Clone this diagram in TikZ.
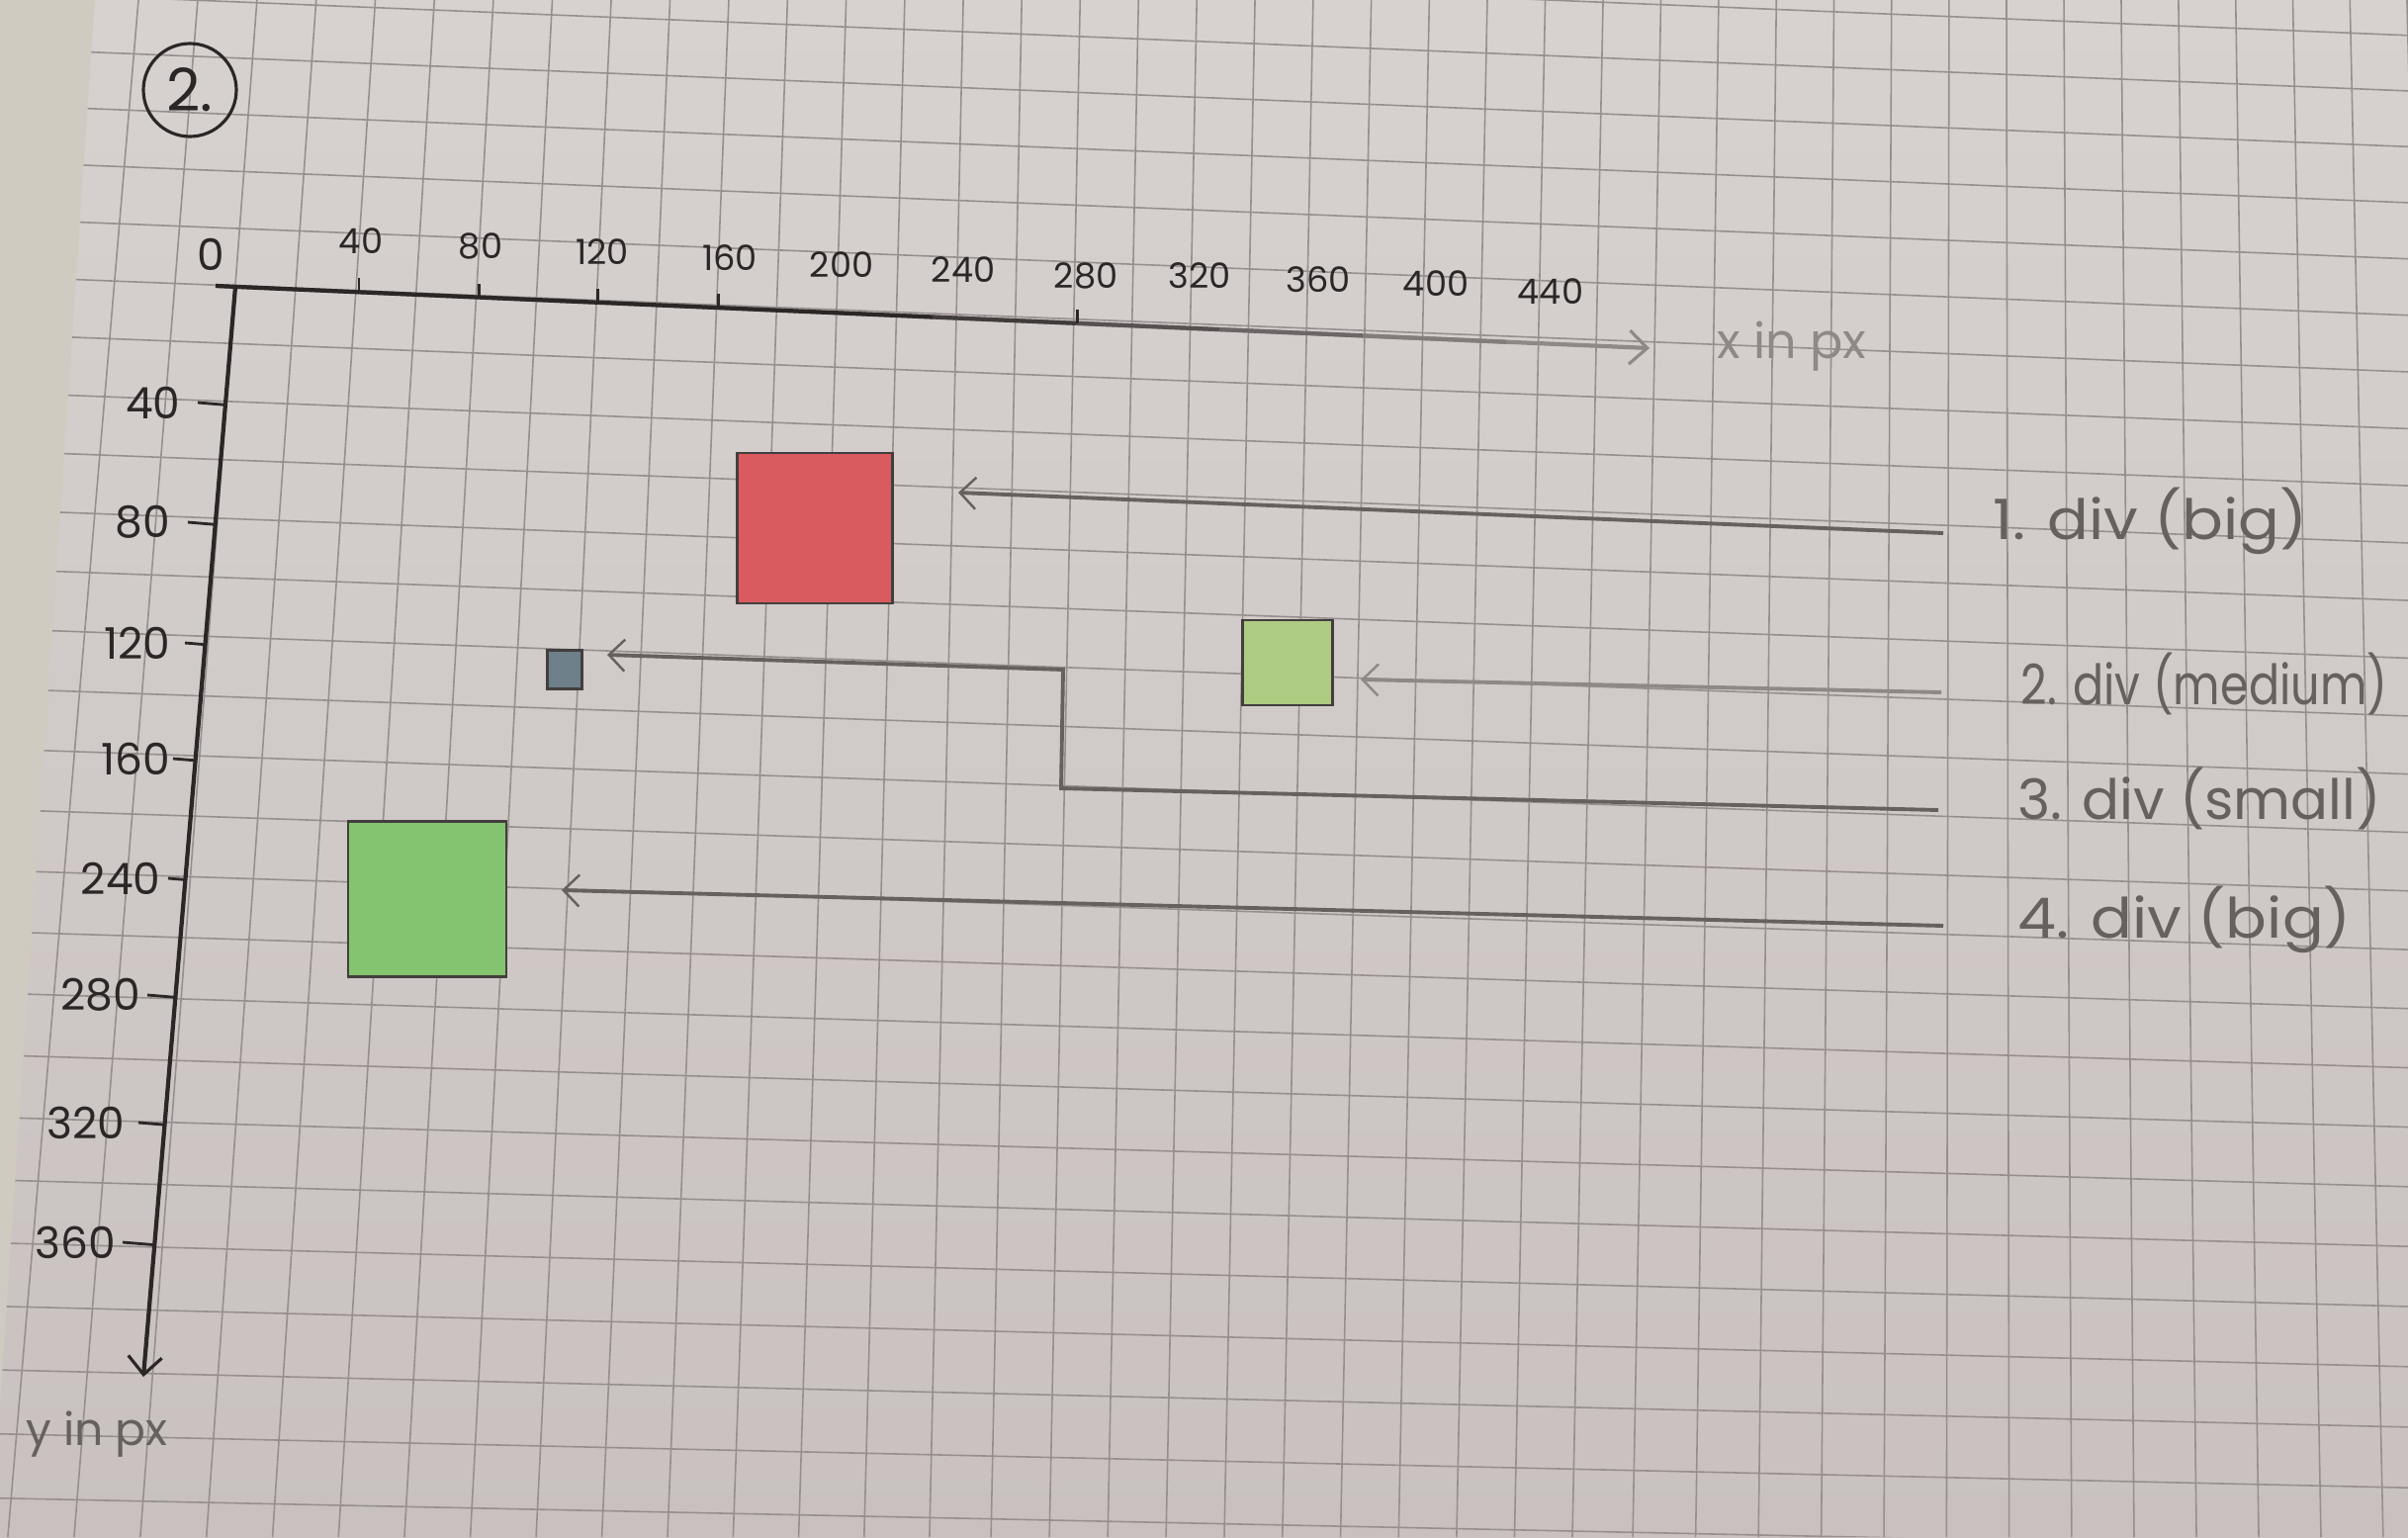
\documentclass[tikz,border=0pt]{standalone}
\usepackage{fontspec}
\setmainfont{Poppins}
\usetikzlibrary{arrows.meta,calc}
\definecolor{paperTop}{HTML}{D7D2D0}
\definecolor{paperBottom}{HTML}{C8C1BF}
\definecolor{paperEdge}{HTML}{D0CBC0}
\definecolor{gridInk}{HTML}{978F8D}
\definecolor{penInk}{HTML}{2B2727}
\definecolor{pencilDark}{HTML}{66605E}
\definecolor{pencilLight}{HTML}{8E8886}
\definecolor{divRed}{HTML}{DA5B5F}
\definecolor{divGrey}{HTML}{6D7F88}
\definecolor{divLime}{HTML}{AECB82}
\definecolor{divGreen}{HTML}{84C46E}
\definecolor{divEdge}{HTML}{433E3E}
\tikzset{
  gridln/.style={draw=gridInk,line width=0.45pt},
  axln/.style={draw=penInk,line width=1.2pt},
  axtip/.style={-{Straight Barb[length=1.8mm,width=3.4mm,line width=0.9pt]}},
  axtick/.style={draw=penInk,line width=0.8pt},
  xlbl/.style={text=penInk,inner sep=0pt,font=\fontsize{10}{10}\selectfont},
  ylbl/.style={text=penInk,inner sep=0pt,font=\fontsize{12.5}{12.5}\selectfont},
  divbox/.style={draw=divEdge,line width=0.7pt,inner sep=0pt},
  divflow/.style={draw=pencilDark,line width=1.1pt,
                  -{Straight Barb[length=1.6mm,width=3.2mm,line width=0.7pt]}},
  divlbl/.style={text=pencilDark,inner sep=0pt,anchor=base west,font=\fontsize{16}{16}\selectfont},
}

\begin{document}
\begin{tikzpicture}[x=0.1mm,y=-0.1mm]
  \useasboundingbox (0,0) rectangle (2435,1554);
  % squared paper, seen slightly in perspective
  \shade[top color=paperTop,bottom color=paperBottom] (0,0) rectangle (2435,1554);
  \fill[paperEdge] (0,0) -- (96,0) -- (0,1420) -- cycle;
  \begin{scope}
    \clip (96,0) -- (2435,0) -- (2435,1554) -- (0,1554) -- (0,1420) -- cycle;
    \foreach \k in {-2,...,40}{
      \pgfmathsetmacro\xt{140+60*\k-0.0303*\k*\k}
      \pgfmathsetmacro\gslope{\xt<1000 ? -0.085+0.065*(\xt-140)/860 : (\xt<1650 ? -0.02 : -0.02+0.025*(\xt-1650)/436)}
      \draw[gridln] (\xt,0) -- ({\xt+1554*\gslope},1554);
    }
    \foreach \j in {-3,...,24}{
      \pgfmathsetmacro\yl{53+56.96*\j+0.168*\j*\j}
      \pgfmathsetmacro\yr{148.3+56.49*\j+0.107*\j*\j}
      \draw[gridln] (0,{\yl-(\yr-\yl)*100/2335}) -- (2435,\yr);
    }
  \end{scope}

  \node[circle,draw=penInk,line width=0.9pt,minimum size=9.4mm,inner sep=0pt,text=penInk,
        font=\fontsize{17}{17}\selectfont] (task) at (192,91) {2.};

  % axes
  \coordinate (O) at (238,290);
  \coordinate (xstart) at (218,289);
  \coordinate (xend) at (1668,352);
  \coordinate (yend) at (145,1392);
  \draw[axln,draw=pencilLight,axtip] (xstart) -- (xend);
  \foreach \i in {0,...,8}{
    \pgfmathtruncatemacro\inkval{\i<5 ? 100 : 100-22*(\i-4)}
    \pgfmathsetmacro\fa{\i/10}
    \pgfmathsetmacro\fb{(\i+1)/10}
    \draw[axln,draw=penInk!\inkval!pencilLight] ($(xstart)!\fa!(xend)$) -- ($(xstart)!\fb!(xend)$);
  }
  \draw[axln,axtip] (O) -- (yend);

  \node[ylbl] (xlbl0) at (213,257) {0};
  \foreach \v/\lx/\ly in {40/365/244,80/486/249,120/609/255,160/738/261,200/851/268,240/974/273,
                          280/1098/279,320/1213/279,360/1333/283,400/1452/287,440/1568/295}{
    \node[xlbl] (xlbl\v) at (\lx,\ly) {\v};
  }
  \foreach \tx in {365,487,607,729,1093}{
    \coordinate (xt\tx) at ($(xstart)!(\tx,250)!(xend)$);
    \draw[axtick] (xt\tx) -- ++(0,-14);
  }
  \foreach \v/\ly/\lr/\ts in {40/407/183/200,80/528/173/190,120/650/173/187,160/767/173/175,
                              240/888/163/170,280/1006/143/149,320/1135/127/140,360/1256/118/124}{
    \node[ylbl,anchor=east] (ylbl\v) at (\lr,\ly) {\v};
    \draw[axtick] (\ts,\ly) -- ($(O)!(\ts,\ly)!(yend)$);
  }
  \node[text=pencilLight,inner sep=0pt,font=\fontsize{14}{14}\selectfont] (xname) at (1812,350) {x in px};
  \node[text=pencilDark,inner sep=0pt,font=\fontsize{13}{13}\selectfont] (yname) at (98,1450) {y in px};

  % the four divs
  \node[divbox,fill=divRed,minimum width=15.7mm,minimum height=15.2mm] (div1) at (824,534) {};
  \node[divbox,fill=divLime,minimum width=9.1mm,minimum height=8.6mm] (div2) at (1302,670) {};
  \node[divbox,fill=divGrey,minimum width=3.5mm,minimum height=3.9mm] (div3) at (571,677) {};
  \node[divbox,fill=divGreen,minimum width=16mm,minimum height=15.7mm] (div4) at (432,909) {};

  \node[divlbl] (lbl1) at (2015,545) {\scalebox{1.1}[1]{1. div (big)}};
  \node[divlbl] (lbl2) at (2043,712) {\scalebox{0.82}[1]{2. div (medium)}};
  \node[divlbl] (lbl3) at (2040,828) {3. div (small)};
  \node[divlbl] (lbl4) at (2040,948) {\scalebox{1.1}[1]{4. div (big)}};

  \coordinate (a1s) at (1965,539);
  \coordinate (a1e) at (969,498);
  \coordinate (a2s) at (1963,700);
  \coordinate (a2e) at (1376,687);
  \coordinate (a3s) at (1960,819);
  \coordinate (a3b) at (1073,797);
  \coordinate (a3c) at (1075,677);
  \coordinate (a3e) at (614,662);
  \coordinate (a4s) at (1965,936);
  \coordinate (a4e) at (568,900);
  \draw[divflow] (a1s) -- (a1e);
  \draw[divflow,draw=pencilLight] (a2s) -- (a2e);
  \draw[divflow] (a3s) -- (a3b) -- (a3c) -- (a3e);
  \draw[divflow] (a4s) -- (a4e);
\end{tikzpicture}
\end{document}
